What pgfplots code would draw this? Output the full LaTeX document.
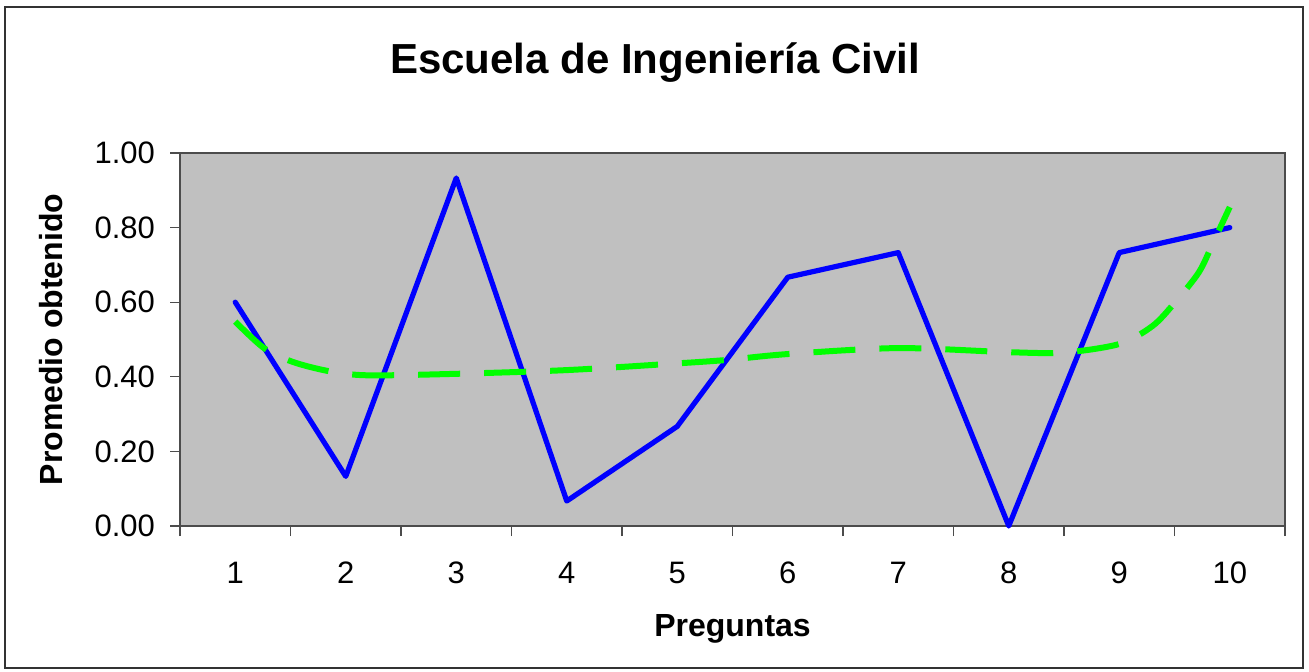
\documentclass[border=0pt]{standalone}
\usepackage{pgfplots}
\pgfplotsset{compat=1.18}
\usepackage{fontspec}
\setmainfont{Liberation Sans}
\definecolor{plotgray}{HTML}{C0C0C0}
\definecolor{xlblue}{HTML}{0000FF}
\definecolor{xlgreen}{HTML}{00FF00}
\begin{document}
\begin{tikzpicture}
\path[use as bounding box] (0pt,0pt) rectangle (654.5pt,335.5pt);
\draw[line width=1pt, black!80] (2.5pt,1.5pt) rectangle (651.5pt,332pt);
\node[font=\bfseries\fontsize{21}{25}\selectfont] at (327.5pt,304pt) {Escuela de Ingeniería Civil};
\begin{axis}[
  at={(90pt,72.5pt)}, anchor=south west,
  scale only axis, width=552.5pt, height=186.5pt,
  xmin=0.5, xmax=10.5, ymin=0, ymax=1,
  axis background/.style={fill=plotgray},
  axis line style={black!70, line width=0.6pt},
  xtick={1,...,10},
  minor xtick={0.5,1.5,...,10.5},
  ytick={0,0.2,...,1.0},
  major x tick style={draw=none},
  minor x tick style={black!70, line width=0.6pt},
  y tick style={black!70, line width=0.6pt},
  minor tick length=5pt, major tick length=5pt,
  tick align=outside,
  xtick pos=bottom, ytick pos=left,
  /pgf/number format/assume math mode=true,
  yticklabel style={/pgf/number format/fixed, /pgf/number format/precision=2, /pgf/number format/fixed zerofill},
  ticklabel style={font=\fontsize{15.5}{18}\selectfont},
  xticklabel style={yshift=-9.5pt},
  yticklabel style={xshift=-4pt},
  xlabel={\textbf{Preguntas}},
  ylabel={\textbf{Promedio obtenido}},
  label style={font=\bfseries\fontsize{16}{19}\selectfont},
  xlabel style={at={(axis description cs:0.5,-0.2968)}, anchor=base},
  ylabel style={at={(axis description cs:-0.1059,0.5)}, anchor=base, rotate=0},
  clip=false,
]
\addplot[xlblue, line width=2.6pt, line cap=round, line join=round] coordinates {
(1,0.600) (2,0.133) (3,0.933) (4,0.067) (5,0.267) (6,0.667) (7,0.733) (8,0.000) (9,0.733) (10,0.800)
};
\addplot[xlgreen, line width=3pt, dash pattern=on 21pt off 12pt, smooth] coordinates {
(1,0.548) (1.26,0.477) (1.52,0.440) (1.85,0.415) (2.2,0.404) (3,0.408) (4,0.418) (5,0.436) (5.44,0.445) (6,0.461) (7,0.477) (8,0.466) (8.5,0.465) (9,0.488) (9.3,0.536) (9.5,0.598) (9.72,0.680) (9.85,0.760) (10,0.855)
};
\end{axis}
\end{tikzpicture}
\end{document}
